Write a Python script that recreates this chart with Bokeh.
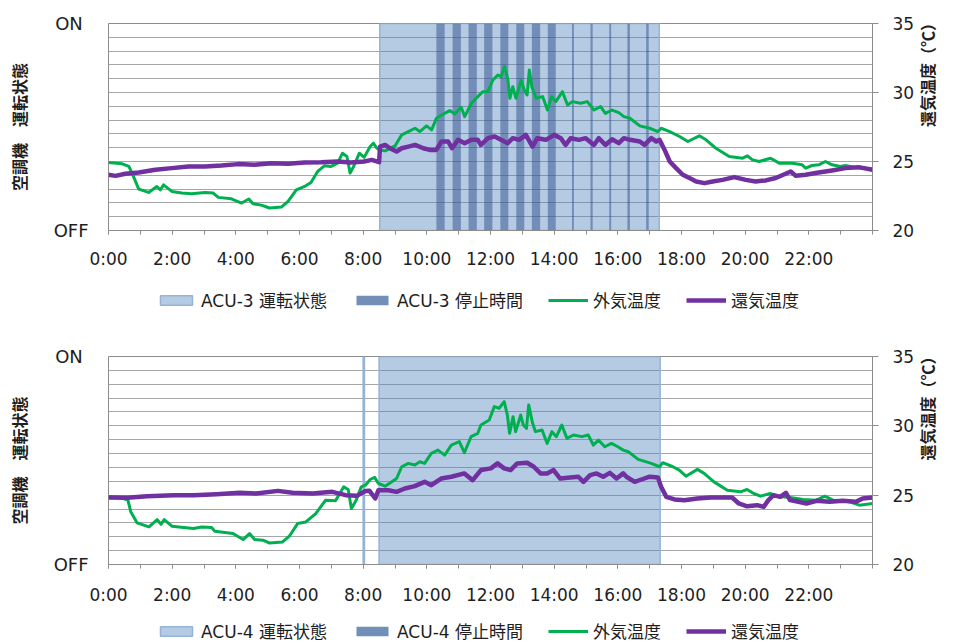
import math

from bokeh.embed import file_html
from bokeh.layouts import column
from bokeh.models import FixedTicker, Legend, LegendItem, LinearAxis, Range1d
from bokeh.plotting import figure
from bokeh.resources import INLINE

# ---- time axis (hours of the day) ----
hour_ticks = list(range(0, 25))
hour_labels = {h: f"{h}:00" for h in range(0, 24, 2)}
temp_ticks = [20, 25, 30, 35]
state_labels = {0: "OFF", 1: "ON\u00a0"}

# ---- ACU-3 : operating periods and stop periods (hours) ----
acu3_run_on = [8.52]
acu3_run_off = [17.30]
acu3_stop_on = [10.30, 10.81, 11.31, 11.80, 12.31, 12.81, 13.30, 13.80, 14.56, 15.14, 15.73, 16.30, 16.89]
acu3_stop_off = [10.56, 11.07, 11.57, 12.06, 12.56, 13.06, 13.56, 14.05, 14.62, 15.21, 15.79, 16.38, 16.97]

# ---- ACU-3 : outdoor air temperature ----
acu3_oa_t = [0.00, 0.43, 0.64, 0.74, 0.95, 1.26, 1.52, 1.63, 1.73, 1.99, 2.30, 2.61, 3.03, 3.29, 3.45,
             3.86, 4.18, 4.41, 4.54, 4.80, 5.06, 5.43, 5.64, 5.90, 6.16, 6.36, 6.57, 6.78, 6.99, 7.20,
             7.35, 7.49, 7.59, 7.70, 7.88, 8.03, 8.22, 8.32, 8.43, 8.53, 8.69, 9.00, 9.21, 9.42, 9.63,
             9.78, 9.99, 10.15, 10.30, 10.56, 10.72, 10.88, 11.08, 11.19, 11.40, 11.60, 11.76, 11.92,
             12.07, 12.23, 12.33, 12.44, 12.54, 12.61, 12.70, 12.80, 12.96, 13.06, 13.15, 13.22, 13.30,
             13.43, 13.64, 13.79, 13.92, 14.05, 14.26, 14.42, 14.57, 14.83, 15.04, 15.25, 15.46, 15.61,
             15.82, 16.03, 16.19, 16.38, 16.69, 17.00, 17.26, 17.36, 17.63, 17.94, 18.20, 18.56, 18.77,
             19.08, 19.50, 19.92, 20.07, 20.23, 20.44, 20.80, 21.07, 21.48, 21.79, 21.90, 22.10, 22.31,
             22.52, 22.73, 22.99, 23.15, 23.50, 23.98]
acu3_oa_v = [24.93, 24.83, 24.64, 24.16, 23.00, 22.76, 23.19, 22.95, 23.31, 22.83, 22.71, 22.66, 22.76, 22.71, 22.40,
             22.30, 21.99, 22.28, 21.94, 21.84, 21.63, 21.70, 22.11, 22.95, 23.19, 23.48, 24.28, 24.69, 24.64, 24.88,
             25.60, 25.36, 24.16, 24.64, 25.60, 25.30, 26.08, 26.33, 25.96, 25.84, 25.77, 26.13, 26.93, 27.17, 27.41,
             27.17, 27.58, 27.29, 28.13, 28.49, 28.69, 28.45, 28.93, 28.25, 29.22, 29.70, 30.06, 30.06,
             30.90, 31.27, 31.14, 31.87, 31.02, 29.58, 30.42, 29.58, 30.90, 30.18, 29.82, 31.63, 30.42,
             29.58, 29.70, 28.73, 29.70, 29.34, 30.06, 29.10, 29.34, 29.22, 29.34, 28.73, 28.98, 28.49,
             28.73, 28.54, 28.25, 28.13, 27.58, 27.41, 27.17, 27.41, 27.17, 26.81, 26.45, 26.86, 26.57,
             25.96, 25.36, 25.24, 25.41, 25.12, 25.00, 25.24, 24.88, 24.88, 24.76, 24.52, 24.71, 24.76,
             25.00, 24.76, 24.64, 24.71, 24.55, 24.45]

# ---- ACU-3 : return air temperature ----
acu3_ra_t = [0.00, 0.22, 0.53, 0.95, 1.47, 1.99, 2.51, 3.03, 3.55, 4.07, 4.59, 5.11, 5.64, 6.16, 6.68,
             7.20, 7.61, 8.03, 8.27, 8.50, 8.53, 8.69, 8.84, 9.05, 9.21, 9.42, 9.63, 9.89, 10.09, 10.30,
             10.46, 10.67, 10.79, 10.98, 11.19, 11.40, 11.60, 11.70, 11.92, 12.13, 12.33, 12.54, 12.70,
             12.90, 13.11, 13.32, 13.47, 13.74, 14.00, 14.21, 14.36, 14.52, 14.78, 14.99, 15.25, 15.40,
             15.61, 15.82, 16.03, 16.19, 16.38, 16.69, 16.84, 17.05, 17.21, 17.31, 17.47, 17.63, 17.83,
             18.04, 18.25, 18.46, 18.72, 18.98, 19.29, 19.66, 20.02, 20.33, 20.65, 20.96, 21.27, 21.43,
             21.59, 21.90, 22.31, 22.73, 23.15, 23.56, 24.00]
acu3_ra_v = [24.04, 23.96, 24.11, 24.20, 24.40, 24.52, 24.64, 24.64, 24.71, 24.81, 24.76, 24.88, 24.83, 24.93, 24.95,
             25.00, 24.93, 25.00, 25.12, 24.95, 26.08, 26.20, 25.96, 25.72, 25.96, 26.08, 26.20, 25.96, 25.84, 25.84,
             26.45, 26.45, 25.96, 26.57, 26.33, 26.57, 26.57, 26.20, 26.69, 26.81, 26.57, 26.33, 26.69,
             26.57, 26.93, 26.08, 26.69, 26.57, 26.93, 26.69, 26.20, 26.69, 26.57, 26.69, 26.20, 26.69,
             26.20, 26.61, 26.33, 26.69, 26.57, 26.45, 26.20, 26.69, 26.45, 26.57, 25.84, 25.00, 24.52,
             24.04, 23.80, 23.55, 23.43, 23.55, 23.67, 23.87, 23.67, 23.55, 23.63, 23.80, 24.11, 24.28,
             23.96, 24.04, 24.20, 24.35, 24.52, 24.59, 24.40]

# ---- ACU-4 : operating periods and stop periods (hours) ----
acu4_run_on = [8.00, 8.50]
acu4_run_off = [8.04, 17.33]
acu4_stop_on = []
acu4_stop_off = []

# ---- ACU-4 : outdoor air temperature ----
acu4_oa_t = [0.00, 0.38, 0.61, 0.70, 0.90, 1.27, 1.53, 1.65, 1.75, 1.99, 2.36, 2.67, 2.93, 3.24, 3.34,
             3.91, 4.23, 4.43, 4.59, 4.85, 5.06, 5.47, 5.68, 5.94, 6.20, 6.51, 6.82, 7.13, 7.39, 7.53,
             7.63, 7.78, 7.94, 8.07, 8.22, 8.36, 8.48, 8.69, 8.90, 9.05, 9.21, 9.42, 9.62, 9.78, 9.93,
             10.14, 10.35, 10.56, 10.77, 11.02, 11.18, 11.39, 11.60, 11.70, 11.96, 12.12, 12.27, 12.43,
             12.53, 12.60, 12.71, 12.79, 12.95, 13.03, 13.13, 13.20, 13.31, 13.41, 13.62, 13.78, 13.93,
             14.07, 14.24, 14.40, 14.61, 14.87, 15.07, 15.23, 15.39, 15.59, 15.80, 16.00, 16.17, 16.33,
             16.64, 17.05, 17.31, 17.41, 17.73, 17.93, 18.14, 18.50, 18.71, 19.02, 19.44, 19.85, 20.06,
             20.27, 20.48, 20.79, 20.99, 21.41, 21.82, 22.24, 22.50, 22.76, 23.28, 23.59, 24.00]
acu4_oa_v = [24.88, 24.83, 24.64, 23.80, 23.00, 22.71, 23.24, 22.90, 23.24, 22.76, 22.66, 22.59, 22.71, 22.66, 22.40,
             22.23, 21.80, 22.23, 21.80, 21.75, 21.55, 21.63, 22.04, 22.95, 23.07, 23.67, 24.64, 24.59, 25.60, 25.41,
             24.04, 24.64, 25.60, 25.72, 26.13, 26.28, 25.84, 25.65, 25.96, 26.20, 27.05, 27.29, 27.17, 27.41, 27.29,
             28.01, 28.25, 27.89, 28.61, 28.86, 28.06, 29.22, 29.46, 30.06, 30.42, 31.39, 31.27, 31.75,
             30.78, 29.46, 30.66, 29.58, 30.78, 30.06, 29.82, 31.51, 30.30, 29.58, 29.70, 28.73, 29.58,
             29.22, 30.06, 29.10, 29.34, 29.22, 29.34, 28.61, 28.98, 28.49, 28.73, 28.49, 28.25, 28.13,
             27.58, 27.29, 27.05, 27.34, 27.05, 26.81, 26.37, 26.86, 26.57, 25.96, 25.36, 25.24, 25.41,
             25.12, 24.93, 25.12, 24.93, 24.83, 24.69, 24.64, 24.93, 24.64, 24.52, 24.28, 24.40]

# ---- ACU-4 : return air temperature ----
acu4_ra_t = [0.00, 0.59, 1.21, 2.05, 2.67, 3.40, 4.12, 4.64, 5.32, 5.78, 6.41, 7.03, 7.45, 7.80, 8.07,
             8.20, 8.38, 8.48, 8.79, 9.05, 9.31, 9.62, 9.93, 10.14, 10.45, 10.77, 11.18, 11.44, 11.70,
             12.01, 12.22, 12.43, 12.63, 12.84, 13.15, 13.36, 13.57, 13.78, 13.98, 14.19, 14.50, 14.76,
             14.92, 15.13, 15.33, 15.54, 15.75, 15.96, 16.17, 16.27, 16.53, 16.74, 17.00, 17.26, 17.36,
             17.52, 17.78, 18.09, 18.50, 18.92, 19.33, 19.59, 19.80, 20.06, 20.37, 20.58, 20.73, 20.89,
             21.10, 21.28, 21.41, 21.67, 21.93, 22.24, 22.65, 23.07, 23.48, 23.69, 24.00]
acu4_ra_v = [24.83, 24.81, 24.93, 25.00, 25.00, 25.07, 25.17, 25.12, 25.31, 25.17, 25.12, 25.24, 25.00, 24.95, 25.30,
             25.31, 24.76, 25.36, 25.36, 25.24, 25.48, 25.65, 25.96, 25.72, 26.20, 26.33, 26.57, 26.08, 26.81,
             26.93, 27.29, 26.93, 26.81, 27.29, 27.34, 27.05, 26.57, 26.57, 26.81, 26.20, 26.28, 26.33,
             25.96, 26.45, 26.57, 26.33, 26.61, 26.20, 26.57, 26.33, 25.96, 26.13, 26.33, 26.28, 25.60,
             24.88, 24.69, 24.64, 24.76, 24.83, 24.83, 24.83, 24.40, 24.20, 24.28, 24.16, 24.64, 25.00,
             24.88, 25.17, 24.64, 24.52, 24.40, 24.59, 24.52, 24.59, 24.52, 24.76, 24.83]

# ---- styling ----
GREEN = "#00B050"
PURPLE = "#7030A0"
AXIS_GRAY = "#8C8C8C"
GRID_GRAY = "#A6A6A6"
TEXT = "#1E1E1E"
LATIN_FONT = "DejaVu Sans"
MIXED_FONT = "DejaVu Sans, Noto Sans CJK JP"
JP_FONT = "Noto Sans CJK JP"

# bands are translucent so that the gridlines show through them
RUN_STYLE = dict(fill_color="#4F81BD", fill_alpha=0.42, line_color="#95B3D7", line_width=1.5)
STOP_STYLE = dict(fill_color="#2E4D8C", fill_alpha=0.485, line_color=None)
# the key shows the resulting (opaque) tints
RUN_KEY = dict(fill_color="#B5CAE3", line_color="#95B3D7", line_width=1.5)
STOP_KEY = dict(fill_color="#728FB8", line_color=None)
OA_STYLE = dict(line_color=GREEN, line_width=3, line_join="round")
RA_STYLE = dict(line_color=PURPLE, line_width=4.5, line_join="round")
NAN = float("nan")


def make_chart(run_on, run_off, stop_on, stop_off, oa_t, oa_v, ra_t, ra_v, g):
    p = figure(width=954, height=g["height"], x_range=Range1d(0, 24), y_range=Range1d(20, 35),
               output_backend="svg", toolbar_location=None, y_axis_location="right",
               min_border_left=g["left"], min_border_right=g["right"],
               min_border_top=g["top"], min_border_bottom=g["bottom"])
    p.extra_y_ranges = {"state": Range1d(0, 1)}
    p.background_fill_color = "white"
    p.border_fill_color = "white"
    p.outline_line_color = AXIS_GRAY
    p.outline_line_width = 1

    p.xgrid.visible = False
    p.ygrid.ticker = FixedTicker(ticks=list(range(20, 36)))
    p.ygrid.grid_line_color = GRID_GRAY
    p.ygrid.grid_line_width = 1

    # operating state (ON/OFF) bands
    p.quad(left=run_on, right=run_off, bottom=0, top=1, y_range_name="state", **RUN_STYLE)
    p.quad(left=stop_on, right=stop_off, bottom=0, top=1, y_range_name="state", **STOP_STYLE)

    p.line(oa_t, oa_v, **OA_STYLE)
    p.line(ra_t, ra_v, **RA_STYLE)

    # time axis
    xa = p.xaxis[0]
    xa.ticker = FixedTicker(ticks=sorted(hour_labels), minor_ticks=hour_ticks)
    xa.major_label_overrides = hour_labels
    xa.axis_line_color = AXIS_GRAY
    xa.major_tick_line_color = AXIS_GRAY
    xa.minor_tick_line_color = AXIS_GRAY
    xa.major_tick_in = 0
    xa.major_tick_out = 4
    xa.minor_tick_in = 0
    xa.minor_tick_out = 4
    xa.major_label_standoff = g["xstandoff"]
    xa.major_label_text_font = LATIN_FONT
    xa.major_label_text_font_size = "17px"
    xa.major_label_text_color = TEXT

    # temperature axis (right)
    ya = p.yaxis[0]
    ya.ticker = FixedTicker(ticks=temp_ticks)
    ya.axis_line_color = AXIS_GRAY
    ya.major_tick_line_color = AXIS_GRAY
    ya.major_tick_in = 0
    ya.major_tick_out = 6
    ya.minor_tick_line_color = None
    ya.major_label_standoff = 14
    ya.major_label_text_font = LATIN_FONT
    ya.major_label_text_font_size = "17px"
    ya.major_label_text_color = TEXT
    ya.axis_label = "還気温度（℃）"
    ya.axis_label_orientation = math.pi / 2
    ya.axis_label_standoff = g["rtitle_standoff"]
    ya.axis_label_text_font = JP_FONT
    ya.axis_label_text_font_style = "bold"
    ya.axis_label_text_font_size = "16px"
    ya.axis_label_text_color = TEXT

    # ON / OFF state axis (left)
    sa = LinearAxis(y_range_name="state", ticker=FixedTicker(ticks=[0, 1]),
                    major_label_overrides=state_labels,
                    axis_line_color=None, major_tick_line_color=None, minor_tick_line_color=None,
                    major_tick_in=0, major_tick_out=0,
                    major_label_standoff=g["state_standoff"], major_label_text_font=LATIN_FONT,
                    major_label_text_font_size="18px", major_label_text_color=TEXT,
                    axis_label="空調機　運転状態", axis_label_standoff=g["ltitle_standoff"],
                    axis_label_text_font=JP_FONT, axis_label_text_font_style="bold",
                    axis_label_text_font_size="16px", axis_label_text_color=TEXT)
    p.add_layout(sa, "left")
    return p


def make_legend(unit, height, x, y):
    # a strip holding only the series key; its placeholder renderers carry no visible data
    lf = figure(width=954, height=height, x_range=Range1d(0, 1), y_range=Range1d(0, 1),
                output_backend="svg", toolbar_location=None, min_border=0,
                x_axis_location=None, y_axis_location=None)
    lf.grid.visible = False
    lf.outline_line_color = None
    lf.background_fill_color = "white"
    lf.border_fill_color = "white"
    run = lf.quad(left=[NAN], right=[NAN], bottom=[NAN], top=[NAN], **RUN_KEY)
    stop = lf.quad(left=[NAN], right=[NAN], bottom=[NAN], top=[NAN], **STOP_KEY)
    oa = lf.line([NAN], [NAN], **OA_STYLE)
    ra = lf.line([NAN], [NAN], **RA_STYLE)
    legend = Legend(items=[LegendItem(label=f"{unit} 運転状態", renderers=[run]),
                           LegendItem(label=f"{unit} 停止時間", renderers=[stop]),
                           LegendItem(label="外気温度", renderers=[oa]),
                           LegendItem(label="還気温度", renderers=[ra])],
                    orientation="horizontal", location=(x, y),
                    glyph_width=40, glyph_height=12, label_height=18, label_standoff=5, spacing=25,
                    padding=0, margin=0, border_line_alpha=0, background_fill_alpha=0,
                    label_text_font=MIXED_FONT, label_text_font_size="17px", label_text_color=TEXT)
    lf.add_layout(legend)
    return lf


p1 = make_chart(acu3_run_on, acu3_run_off, acu3_stop_on, acu3_stop_off,
                acu3_oa_t, acu3_oa_v, acu3_ra_t, acu3_ra_v,
                dict(height=280, top=23, bottom=50, left=108, right=81, xstandoff=14,
                     state_standoff=20, ltitle_standoff=20, rtitle_standoff=10))
l1 = make_legend("ACU-3", 50, 48, 18)
p2 = make_chart(acu4_run_on, acu4_run_off, acu4_stop_on, acu4_stop_off,
                acu4_oa_t, acu4_oa_v, acu4_ra_t, acu4_ra_v,
                dict(height=280, top=26, bottom=46, left=106, right=78, xstandoff=16,
                     state_standoff=20, ltitle_standoff=20, rtitle_standoff=10))
l2 = make_legend("ACU-4", 33, 48, 0)

layout = column(p1, l1, p2, l2)
open("out.html", "w").write(file_html(layout, INLINE))
